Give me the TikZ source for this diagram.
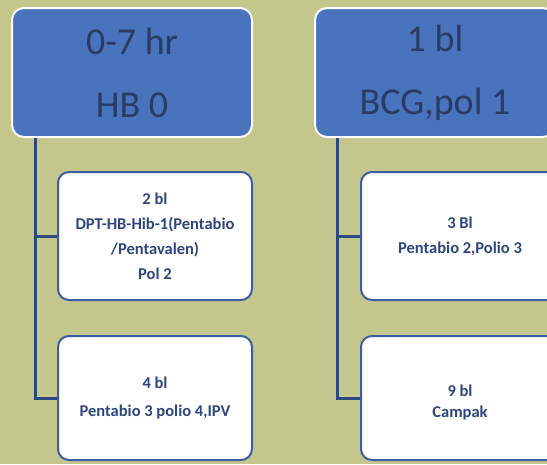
\documentclass[tikz,border=0pt]{standalone}
\usepackage{fontspec}
\setmainfont{Carlito}
\usetikzlibrary{positioning}
\definecolor{bgkhaki}{RGB}{196,199,140}
\definecolor{headblue}{RGB}{74,115,190}
\definecolor{headtext}{RGB}{40,60,100}
\definecolor{boxline}{RGB}{60,93,165}
\definecolor{boxtext}{RGB}{45,70,125}
\definecolor{trunk}{RGB}{44,72,125}
\begin{document}
\begin{tikzpicture}[x=1pt,y=-1pt,
        topbox/.style={draw=white, line width=2pt, fill=headblue, rounded corners=12pt,
            minimum width=240pt, minimum height=129pt, inner sep=0pt,
            text=headtext, align=center, font=\fontsize{38}{63}\selectfont},
        childbox/.style={draw=boxline, line width=2pt, fill=white, rounded corners=11pt,
            minimum width=194pt, inner sep=0pt,
            text=boxtext, align=center, font=\fontsize{16.5}{25}\selectfont\bfseries},
        branch/.style={draw=trunk, line width=3pt},
    ]
    \useasboundingbox (0,0) rectangle (547,464);
    \fill[bgkhaki] (0,0) rectangle (547,464);
    % top level
    \node[topbox](birth) at (132,72.5){0-7 hr\\HB 0};
    \node[topbox](month1) at (435,72.5){1 bl\\BCG,pol 1};
    % children
    \node[childbox, minimum height=128pt](month2) at (155,236){2 bl\\DPT-HB-Hib-1(Pentabio\\/Pentavalen)\\Pol 2};
    \node[childbox, minimum height=124pt](month4) at (155,398){4 bl\\[3pt]Pentabio 3 polio 4,IPV};
    \node[childbox, minimum height=128pt, minimum width=198pt](month3) at (460,236){3 Bl\\Pentabio 2,Polio 3};
    \node[childbox, minimum height=124pt, minimum width=198pt](month9) at (460,398){\mbox{}\\[-5pt]9 bl\\[-4pt]Campak};
    % connectors
    \draw[branch] ([xshift=24pt]birth.south west) |- (month2.west)
        ([xshift=24pt]birth.south west) |- (month4.west);
    \draw[branch] ([xshift=23pt]month1.south west) |- (month3.west)
        ([xshift=23pt]month1.south west) |- (month9.west);
\end{tikzpicture}
\end{document}
